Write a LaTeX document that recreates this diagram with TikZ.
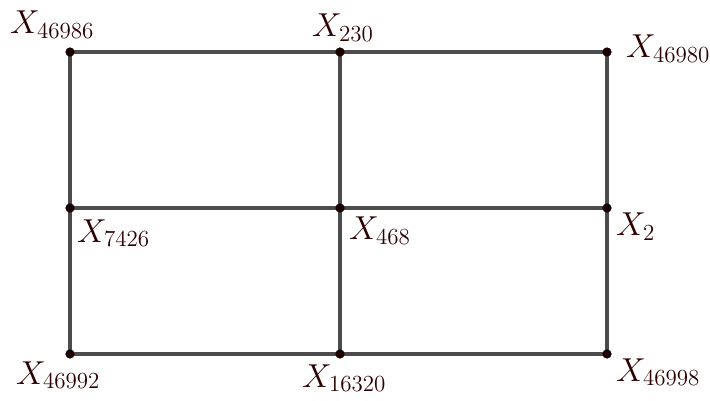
\documentclass[tikz,border=0pt]{standalone}
\newcommand{\lab}[1]{\scalebox{1.6}{$#1$}}
\begin{document}
\begin{tikzpicture}[x=1pt,y=-1pt,
  edge/.style={draw=black!70,line width=3.3pt},
  pt/.style={circle,fill=black!80!red!60!black,draw=black,line width=0.6pt,inner sep=0pt,minimum size=8.5pt},
  lbl/.style={text=black!75!red!70!black,inner sep=0pt,font=\fontsize{20.74}{25}\selectfont}]
\useasboundingbox (0,0) rectangle (710,401);
\coordinate (A) at (70,52);
\coordinate (B) at (340,52);
\coordinate (C) at (607,52);
\coordinate (D) at (70,208);
\coordinate (E) at (340,208);
\coordinate (F) at (607,208);
\coordinate (G) at (70,354);
\coordinate (H) at (340,354);
\coordinate (I) at (607,354);
\draw[edge] (A) -- (B) -- (C) -- (F) -- (I) -- (H) -- (G) -- (D) -- (A);
\draw[edge] (D) -- (E) -- (F);
\draw[edge] (B) -- (E) -- (H);
\foreach \p in {A,B,C,D,E,F,G,H,I} \node[pt] (n\p) at (\p) {};
\node[lbl,anchor=base west] (lA) at (10,34) {\lab{X_{46986}}};
\node[lbl,anchor=base west] (lB) at (312,37) {\lab{X_{230}}};
\node[lbl,anchor=base west] (lC) at (626,58) {\lab{X_{46980}}};
\node[lbl,anchor=base west] (lD) at (77,242) {\lab{X_{7426}}};
\node[lbl,anchor=base west] (lE) at (349,240) {\lab{X_{468}}};
\node[lbl,anchor=base west] (lF) at (616,236) {\lab{X_2}};
\node[lbl,anchor=base west] (lG) at (16,384) {\lab{X_{46992}}};
\node[lbl,anchor=base west] (lH) at (302,387) {\lab{X_{16320}}};
\node[lbl,anchor=base west] (lI) at (616,381) {\lab{X_{46998}}};
\end{tikzpicture}
\end{document}
